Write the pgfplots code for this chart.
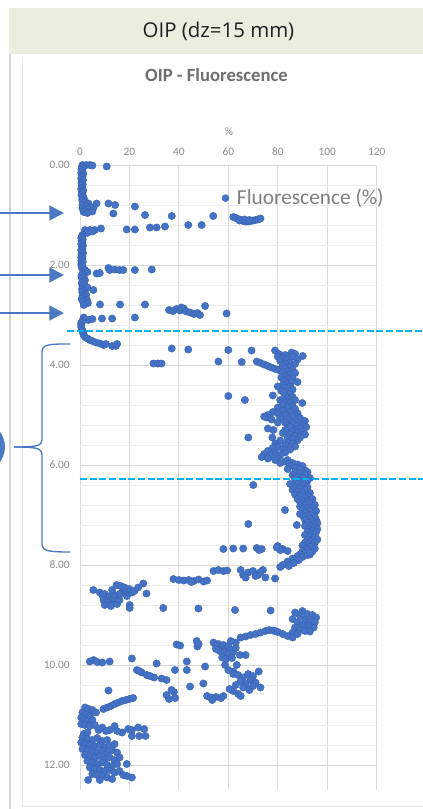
\documentclass[border=0pt]{standalone}
\usepackage{pgfplots}
\pgfplotsset{compat=1.18}
\usepackage{pgfplotstable}
\usepackage{fontspec}
\setmainfont{Carlito}
\newfontfamily\barfont{Open Sans}
\usetikzlibrary{arrows.meta}

\definecolor{barbg}{HTML}{EBEEDE}
\definecolor{dotblue}{HTML}{4472C4}
\definecolor{dotedge}{HTML}{3A62B0}
\definecolor{note}{HTML}{4A78C2}
\definecolor{cut}{HTML}{00B0F0}
\definecolor{gridmaj}{HTML}{D9D9D9}
\definecolor{gridmin}{HTML}{EFEFEF}
\definecolor{ticktxt}{HTML}{8C8C8C}
\definecolor{ttl}{HTML}{6E6E6E}
\definecolor{frame}{HTML}{D4D4D4}

% OIP log: fluorescence (%) against depth (m), dz = 15 mm
\pgfplotstableread[row sep=\\]{
x y\\
1 0.0\\ 2.5 0.0\\ 4 0.0\\ 5 0.01\\ 10.8 0.03\\
0.8 0.03\\ 1.2 0.06\\ 0.6 0.09\\ 1.0 0.12\\ 0.5 0.15\\ 1.3 0.18\\ 0.7 0.21\\ 1.0 0.24\\
0.5 0.27\\ 1.2 0.30\\ 0.8 0.33\\ 0.6 0.36\\ 1.1 0.39\\ 0.7 0.42\\ 1.0 0.45\\ 0.5 0.48\\
1.3 0.51\\ 0.8 0.54\\ 1.0 0.57\\ 0.6 0.60\\ 1.2 0.63\\ 1.5 0.66\\ 0.9 0.69\\ 1.8 0.72\\
1 0.72\\ 2 0.75\\ 3.4 0.77\\ 1 0.8\\ 2.5 0.82\\ 4 0.84\\ 1 0.87\\ 2 0.9\\ 3.5 0.88\\
5.5 0.85\\ 6.7 0.77\\ 1.5 0.94\\ 3 0.96\\ 5 0.93\\
11.5 0.77\\ 14.2 0.8\\ 13.5 0.97\\ 22.2 0.83\\ 26.3 1.0\\ 37.1 1.02\\ 53.9 1.02\\
43.8 1.2\\ 49.2 1.2\\ 18.9 1.29\\ 22.2 1.29\\ 28.3 1.25\\ 31 1.25\\ 34.4 1.23\\
62 1.04\\ 63 1.06\\ 64 1.08\\ 65 1.1\\ 66 1.12\\ 67 1.13\\ 68 1.13\\ 69 1.12\\
70 1.11\\ 71 1.1\\ 72 1.09\\ 73 1.07\\ 64.5 1.11\\ 66.5 1.09\\ 68.5 1.1\\
2 1.3\\ 4 1.3\\ 6 1.3\\ 8.5 1.27\\ 5 1.33\\ 3 1.36\\ 1 1.4\\
0.8 1.43\\ 0.5 1.46\\ 1.1 1.49\\ 0.6 1.52\\ 0.9 1.55\\ 0.5 1.58\\ 1.2 1.61\\ 0.7 1.64\\
1.0 1.67\\ 0.5 1.70\\ 0.8 1.73\\ 1.2 1.76\\ 0.6 1.79\\ 1.0 1.82\\ 0.5 1.85\\ 0.9 1.88\\
0.6 1.91\\ 1.1 1.94\\ 0.7 1.97\\ 0.5 2.00\\ 1.0 2.03\\ 0.8 2.06\\
6.7 2.17\\ 8 2.16\\ 11.5 2.06\\ 12 2.1\\ 14 2.09\\ 16 2.1\\ 17.5 2.1\\ 22.2 2.1\\ 29 2.09\\
2 2.1\\ 3 2.14\\
1.0 2.18\\ 0.6 2.21\\ 1.5 2.24\\ 0.8 2.27\\ 2.0 2.30\\ 1.2 2.33\\ 0.7 2.36\\ 1.8 2.39\\
1.0 2.42\\ 3.0 2.45\\ 0.8 2.48\\ 5.4 2.5\\ 1.4 2.51\\ 0.9 2.54\\ 2.2 2.57\\ 2.5 2.6\\
1.0 2.62\\ 1.6 2.65\\ 0.7 2.68\\ 2.8 2.7\\ 1.2 2.73\\ 3.2 2.76\\ 1.5 2.8\\
8.1 2.79\\ 16.2 2.79\\ 26.3 2.79\\
36 2.9\\ 37.5 2.92\\ 39 2.88\\ 40.5 2.91\\ 42 2.87\\ 43 2.93\\ 44.5 2.95\\ 46 2.98\\
47.5 2.96\\ 48.5 3.0\\ 50.6 2.82\\ 59.3 2.97\\ 41 2.85\\
3.4 3.1\\ 5 3.08\\ 8.9 3.07\\ 13 3.07\\ 22.2 3.05\\ 1.5 3.05\\
1 3.12\\ 0.5 3.16\\ 0.5 3.2\\ 0.5 3.24\\ 0.7 3.28\\ 1 3.32\\ 1.2 3.36\\ 1.5 3.4\\
2 3.44\\ 3 3.47\\ 4 3.5\\ 5 3.52\\ 6.5 3.55\\ 8 3.57\\ 9.5 3.6\\ 10.5 3.58\\
13 3.62\\ 14.5 3.62\\ 15 3.58\\
37.1 3.67\\ 43.8 3.69\\ 29.7 3.97\\ 31.5 3.97\\ 33 3.97\\ 60 3.7\\ 56 3.93\\ 65.4 3.94\\
69.4 3.71\\ 71.5 3.93\\ 60 4.62\\ 66.7 4.7\\ 68.1 5.45\\ 77.8 5.45\\ 78.2 5.3\\
75.5 5.05\\ 84.8 5.36\\ 70.1 6.4\\ 82.9 6.9\\ 68.1 7.18\\ 87.7 7.2\\
78.9 3.71\\ 85.6 3.75\\ 90.1 3.82\\ 80.5 3.78\\ 83 3.8\\ 87 3.78\\
73 3.96\\ 74.5 3.99\\ 76 4.02\\ 77.5 4.05\\ 79 4.08\\ 80.5 4.1\\
86 3.83\\ 80 3.83\\ 82 3.86\\ 84 3.89\\ 88 3.89\\ 81 3.92\\ 85 3.95\\ 83 3.98\\ 87 3.98\\
82 4.01\\ 85 4.04\\ 83 4.07\\ 86 4.10\\ 84 4.13\\ 82 4.16\\ 87 4.16\\ 85 4.19\\
83 4.22\\ 86 4.25\\ 81.5 4.25\\ 84 4.28\\ 82.5 4.31\\ 85.5 4.34\\ 88 4.34\\ 83.5 4.37\\
82 4.40\\ 85 4.43\\ 80 4.43\\ 83 4.46\\ 86 4.49\\ 81.5 4.52\\ 84 4.52\\ 82.5 4.55\\
85 4.58\\ 78 4.61\\ 83 4.61\\ 86 4.64\\ 84 4.67\\ 81 4.70\\ 87 4.70\\ 83 4.73\\
85 4.76\\ 89.9 4.76\\ 82 4.79\\ 86 4.82\\ 84 4.85\\ 80 4.85\\ 87 4.88\\ 82 4.91\\
85 4.94\\ 78 4.94\\ 80 4.97\\ 88 4.97\\ 76 5.00\\ 83 5.00\\ 86 5.03\\ 74.5 5.03\\
81 5.06\\ 89 5.06\\ 77.5 5.09\\ 84 5.09\\ 87 5.12\\ 91 5.12\\ 83 5.15\\ 80 5.15\\
86 5.18\\ 90 5.18\\ 88 5.21\\ 84 5.21\\ 85 5.24\\ 91.5 5.24\\ 76 5.27\\ 89 5.27\\
83 5.30\\ 87 5.30\\ 90 5.33\\ 86 5.33\\ 88 5.36\\ 82 5.36\\ 85 5.39\\ 91 5.39\\
87 5.42\\ 84 5.45\\ 89 5.45\\ 86 5.48\\ 81 5.51\\ 88 5.51\\ 84 5.54\\ 79 5.57\\
86 5.57\\ 83 5.60\\ 80 5.63\\ 87 5.63\\ 78 5.66\\ 82 5.69\\ 85 5.69\\ 76 5.72\\
79 5.75\\ 83 5.75\\ 74.5 5.78\\ 77 5.81\\ 81 5.81\\ 73.5 5.84\\ 76 5.87\\ 80 5.87\\
79 5.90\\ 84 5.90\\ 83 5.93\\ 86 5.96\\ 81 5.96\\ 88 5.99\\ 85 6.02\\ 90 6.02\\
87 6.05\\ 89 6.08\\ 84 6.08\\ 91 6.11\\ 87 6.14\\ 92 6.14\\ 89 6.17\\ 86 6.20\\
91 6.20\\ 88 6.23\\ 90 6.26\\ 93 6.26\\ 87 6.29\\ 89 6.32\\ 92 6.32\\ 91 6.35\\
88 6.38\\ 85 6.38\\ 90 6.41\\ 92 6.44\\ 87 6.44\\ 89 6.47\\ 91 6.50\\ 86 6.50\\
88 6.53\\ 90 6.56\\ 93 6.56\\ 87 6.59\\ 89 6.62\\ 92 6.62\\ 91 6.65\\ 88 6.68\\
94 6.68\\ 90 6.71\\ 92 6.74\\ 89 6.74\\ 93 6.77\\ 91 6.80\\ 95 6.80\\ 89 6.83\\
92 6.86\\ 94 6.86\\ 90 6.89\\ 93 6.92\\ 95.5 6.92\\ 91 6.95\\ 94 6.98\\ 89 6.98\\
92 7.01\\ 95 7.04\\ 90.5 7.04\\ 93 7.07\\ 91 7.10\\ 95.5 7.10\\ 94 7.13\\ 92 7.16\\
96 7.16\\ 94.5 7.19\\ 93 7.22\\ 91 7.22\\ 95 7.25\\ 92.5 7.28\\ 96 7.28\\ 94 7.31\\
95.5 7.34\\ 92 7.34\\ 93.5 7.37\\ 95 7.40\\ 91 7.40\\ 93 7.43\\ 94.5 7.46\\ 92 7.49\\
96 7.49\\ 93.5 7.52\\ 91 7.55\\ 95 7.55\\ 92.5 7.58\\ 94 7.61\\ 90 7.61\\ 93 7.64\\
91.5 7.67\\ 95 7.67\\ 92 7.70\\ 94 7.73\\ 90 7.73\\ 91 7.76\\ 93 7.79\\ 89 7.79\\
88 7.82\\ 90 7.84\\ 86 7.87\\ 88.5 7.9\\ 84 7.93\\ 86.5 7.96\\ 82 8.0\\ 84.5 8.02\\
81 8.04\\ 92 7.8\\ 93 7.76\\
80 7.62\\ 82 7.68\\ 84 7.72\\ 81 7.7\\
58 7.68\\ 62 7.67\\ 66 7.67\\ 71.5 7.66\\ 72.5 7.7\\ 73.5 7.68\\ 79.6 7.65\\
65 8.1\\ 66 8.2\\ 68 8.15\\ 70 8.12\\ 72 8.2\\ 74 8.1\\ 75 8.25\\ 67 8.25\\ 71 8.22\\
78.9 8.27\\ 73 8.14\\
54 8.12\\ 56 8.1\\ 58 8.12\\ 59.5 8.11\\
37.8 8.28\\ 40 8.3\\ 42 8.31\\ 44 8.3\\ 46 8.32\\ 48 8.29\\ 50 8.33\\ 51.4 8.31\\ 45 8.34\\
5.4 8.5\\ 8 8.55\\ 9 8.6\\ 10 8.58\\ 11 8.65\\ 9.5 8.7\\ 12 8.62\\ 13 8.7\\ 11 8.75\\
14 8.68\\ 10 8.8\\ 12.5 8.82\\ 15 8.78\\ 16 8.7\\ 14 8.6\\ 17 8.55\\ 18.5 8.5\\
20 8.48\\ 21 8.55\\ 22 8.52\\ 19 8.62\\ 23.5 8.45\\ 25.6 8.37\\ 26.9 8.57\\ 20.1 8.8\\
20.1 8.86\\ 16 8.58\\ 13 8.5\\ 18 8.45\\ 14.8 8.4\\ 16.5 8.42\\
33.7 8.86\\ 47.9 8.87\\ 62.7 8.9\\ 77.1 8.91\\
87 8.95\\ 90 8.92\\ 92 8.98\\ 94 9.0\\ 95.5 9.05\\ 89 9.02\\ 86 9.08\\ 91 9.1\\
93 9.12\\ 95 9.15\\ 88 9.15\\ 90 9.2\\ 92.5 9.22\\ 94.5 9.25\\ 87 9.25\\ 89 9.3\\
91 9.32\\ 86 9.35\\ 88 9.38\\ 93 9.33\\
65 9.45\\ 67 9.43\\ 69 9.4\\ 71 9.38\\ 73 9.35\\ 75 9.32\\ 76.5 9.3\\ 78 9.31\\
79 9.32\\ 80 9.34\\ 82 9.38\\ 84 9.42\\ 86 9.45\\
39.1 9.59\\ 40.5 9.61\\ 47.2 9.52\\ 47.5 9.63\\ 48 9.58\\ 54 9.55\\ 56 9.58\\ 55 9.62\\
57 9.65\\ 58 9.6\\ 59 9.68\\ 60 9.62\\ 61 9.7\\ 56.5 9.72\\ 58.5 9.75\\ 60 9.78\\
62 9.74\\ 63 9.66\\ 64.7 9.8\\ 67 9.8\\ 57.5 9.85\\ 59 9.88\\ 61.5 9.86\\ 55 9.68\\
63 9.55\\ 61 9.52\\
4 9.93\\ 5.5 9.9\\ 7 9.94\\ 9 9.95\\ 12 9.93\\ 21 9.87\\ 31 9.97\\ 43.2 9.93\\
43.2 10.1\\ 50.6 10.03\\ 38.4 10.1\\ 58.7 10.0\\ 63.4 10.0\\ 62 10.13\\
23 10.1\\ 25 10.15\\ 27 10.2\\ 30 10.25\\ 33 10.27\\ 35 10.3\\ 24 10.12\\ 28.3 10.22\\
60 10.1\\ 62 10.18\\ 64 10.2\\ 66 10.25\\ 68 10.18\\ 70 10.22\\ 72.3 10.13\\ 65 10.32\\
67 10.38\\ 69 10.3\\ 71 10.35\\ 63 10.4\\ 66 10.45\\ 68.5 10.5\\ 73 10.45\\ 62 10.52\\
64 10.58\\ 60.5 10.48\\ 65 10.62\\ 70 10.42\\
44.5 10.43\\ 49.9 10.37\\ 38 10.54\\ 38.5 10.66\\ 35 10.6\\ 36 10.68\\ 37 10.5\\
51.4 10.62\\ 53 10.65\\ 55 10.64\\ 57 10.66\\ 58 10.62\\ 53.5 10.7\\
11.5 10.51\\
9.5 10.88\\ 11 10.85\\ 12.5 10.82\\ 14 10.78\\ 15.5 10.75\\ 17 10.72\\ 18.5 10.7\\
20 10.68\\ 21.5 10.66\\
2 10.85\\ 3.5 10.88\\ 5 10.9\\ 6.5 10.95\\ 1 10.95\\ 2.5 11.0\\ 4 11.02\\ 0.5 11.05\\
1.5 11.1\\ 3 11.12\\ 5 11.1\\ 0.5 11.18\\ 2 11.2\\ 4 11.22\\ 6 11.2\\
9 11.25\\ 12 11.3\\ 14 11.22\\ 17 11.35\\ 19.5 11.28\\ 21 11.3\\ 23.5 11.25\\
26 11.28\\ 21 11.42\\ 24 11.42\\ 26.5 11.42\\ 7.5 11.3\\ 10.5 11.32\\ 15 11.32\\
1.5 11.38\\ 3 11.35\\
1 11.45\\ 3 11.48\\ 5 11.5\\ 7 11.46\\ 9 11.52\\ 11 11.5\\ 0.5 11.55\\ 2 11.58\\
4 11.6\\ 6 11.62\\ 8 11.6\\ 10 11.65\\ 12 11.62\\ 14 11.58\\ 1 11.68\\ 3 11.7\\
5 11.72\\ 7 11.75\\ 9 11.72\\ 11 11.78\\ 13 11.7\\ 15 11.75\\ 2 11.8\\ 4 11.83\\
6 11.85\\ 8 11.82\\ 10 11.88\\ 12 11.85\\ 14 11.9\\ 16 11.85\\ 3 11.92\\ 5 11.95\\
7 11.98\\ 9 11.95\\ 11 12.0\\ 13 12.02\\ 15 11.98\\ 18.9 11.98\\ 4 12.05\\ 6 12.08\\
8 12.1\\ 10 12.12\\ 12 12.1\\ 14 12.15\\ 16 12.12\\ 17.5 12.2\\ 19 12.22\\ 21 12.25\\
5 12.18\\ 7 12.2\\ 9 12.22\\ 11 12.25\\ 13 12.28\\ 3.3 12.3\\ 8 12.3\\
}\fluo

\begin{document}
\begin{tikzpicture}
% fixed page: 423 x 809 px at 96 dpi
\useasboundingbox (0pt,0pt) rectangle (317.25pt,-606.75pt);
% header strip and chart panel (1 unit = 1 px)
\begin{scope}[x=0.75pt,y=-0.75pt]
  \fill[white] (0,0) rectangle (423,809);
  \fill[barbg] (9,8) rectangle (423,54);
  \node[font=\barfont\fontsize{15.3}{18}\selectfont, text=black!88] at (218.5,31) {OIP (dz=15 mm)};
  \draw[frame, line width=1.1pt] (10,54) -- (10,809);
  \draw[black!9, line width=0.75pt] (22,58) -- (22,806) -- (423,806);
  \node[font=\bfseries\fontsize{14}{16}\selectfont, text=ttl] at (216.5,75.5) {OIP - Fluorescence};
\end{scope}

\begin{axis}[
  at={(60pt,-123.75pt)}, anchor=north west,
  scale only axis, width=222.5pt, height=468.75pt,
  xmin=0, xmax=120, ymin=0, ymax=12.5, y dir=reverse,
  xtick={0,20,...,120}, ytick={0,2,...,12}, minor y tick num=4,
  xticklabel pos=upper,
  major tick length=0pt, minor tick length=0pt,
  axis line style={draw=none},
  xmajorgrids, ymajorgrids, yminorgrids,
  major grid style={gridmaj, line width=0.75pt},
  minor grid style={gridmin, line width=0.6pt},
  tick label style={font=\fontsize{8.5}{10}\selectfont, text=ticktxt},
  /pgf/number format/assume math mode=true,
  yticklabel={\pgfmathprintnumber[fixed,fixed zerofill,precision=2]{\tick}},
  yticklabel style={anchor=east, inner sep=0pt, xshift=-7.5pt},
  xticklabel style={anchor=south, inner sep=0pt, yshift=6.5pt},
  xlabel={\%},
  xlabel style={at={(axis description cs:0.502,1)}, anchor=center, yshift=24.75pt,
                font=\fontsize{8.5}{10}\selectfont, text=ticktxt},
  clip=false,
  legend style={at={(axis description cs:0.477,0.947)}, anchor=west, draw=none, fill=none,
                inner sep=0pt, font=\fontsize{16}{18}\selectfont, text=black!50},
  legend image code/.code={\fill[dotblue] (0pt,0pt) circle (2.6pt); \path (6.4pt,0pt);},
]
\addplot[only marks, mark=*, mark size=2.75pt,
         mark options={fill=dotblue, draw=dotedge, line width=0.3pt}]
  table[x=x, y=y] {\fluo};
\addlegendentry{Fluorescence (\%)}
\end{axis}

% section markers drawn over the log
\begin{scope}[x=0.75pt,y=-0.75pt]
  \draw[cut, line width=1.1pt, dash pattern=on 5.25pt off 2pt] (67,331) -- (423,331);
  \draw[cut, line width=1.1pt, dash pattern=on 5.25pt off 2pt] (80,479) -- (423,479);
  \foreach \yy in {213,275,313}
    \draw[note, line width=1.6pt, -{Triangle[length=11pt,width=11pt]}] (-2,\yy) -- (64,\yy);
  \draw[note, line width=1pt] (70,344) .. controls (50,344) and (42,344) .. (42,352)
    -- (42,440) .. controls (42,446) and (36,447) .. (14,447);
  \draw[note, line width=1pt] (14,447) .. controls (36,447) and (42,448) .. (42,455)
    -- (42,545) .. controls (42,551) and (50,552) .. (70,552);
  \fill[note] (-20,447) circle (25);
\end{scope}
\end{tikzpicture}
\end{document}
